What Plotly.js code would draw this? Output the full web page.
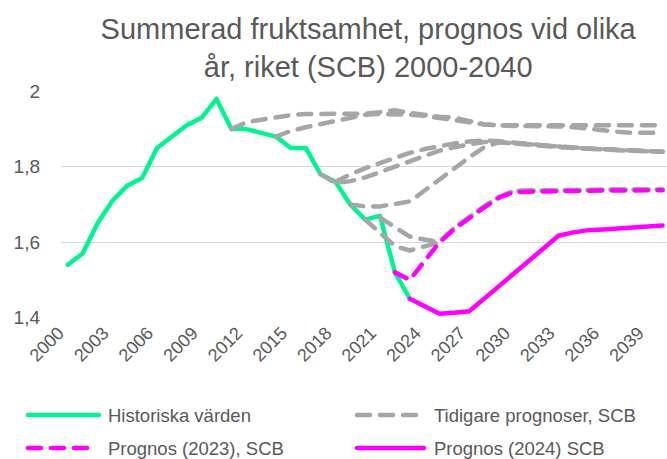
<!DOCTYPE html>
<html>
<head>
<meta charset="utf-8">
<script src="https://cdn.plot.ly/plotly-3.0.1.min.js"></script>
<style>
html,body{margin:0;padding:0;background:#fff;}
#chart{width:667px;height:459px;}
.scatterlayer .js-line{stroke-linecap:round;stroke-linejoin:round;}
.shapelayer path{stroke-linecap:round;}
</style>
</head>
<body>
<div id="chart"></div>
<script>
// ---- data ----
const years = [2000,2001,2002,2003,2004,2005,2006,2007,2008,2009,2010,2011,2012,2013,2014,2015,2016,2017,2018,2019,2020,2021,2022,2023,2024,2025,2026,2027,2028,2029,2030,2031,2032,2033,2034,2035,2036,2037,2038,2039,2040];
const tickYears = [2000,2003,2006,2009,2012,2015,2018,2021,2024,2027,2030,2033,2036,2039];
const tickLabels = ['2000','2003','2006','2009','2012','2015','2018','2021','2024','2027','2030','2033','2036','2039'];
const yTicks = [1.4,1.6,1.8,2.0];
const yTickLabels = ['1,4','1,6','1,8','2'];

const historiskaStart = 2000;
const historiska = [1.54,1.57,1.65,1.71,1.75,1.77,1.85,1.88,1.91,1.93,1.98,1.90,1.90,1.89,1.88,1.85,1.85,1.78,1.76,1.70,1.66,1.67,1.52,1.45];

const prognos2023Start = 2022;
const prognos2023 = [1.52,1.50,1.55,1.60,1.635,1.665,1.692,1.718,1.733,1.734,1.735,1.735,1.736,1.736,1.737,1.737,1.738,1.738,1.738];

const prognos2024Start = 2023;
const prognos2024 = [1.45,1.43,1.41,1.413,1.417,1.45,1.483,1.517,1.55,1.584,1.617,1.626,1.632,1.634,1.637,1.639,1.642,1.644];

// earlier SCB forecasts (gray dashed)
const tidigareAStart = 2011;
const tidigareA = [1.90,1.918,1.925,1.932,1.937,1.94,1.94,1.94,1.94,1.941,1.945,1.95,1.943,1.937,1.933,1.93,1.922,1.913,1.91,1.91,1.91,1.91,1.91,1.91,1.91,1.91,1.91,1.91,1.91,1.91];
const tidigareBStart = 2014;
const tidigareB = [1.88,1.895,1.905,1.913,1.922,1.93,1.938,1.94,1.94,1.938,1.935,1.93,1.925,1.918,1.912,1.909,1.908,1.908,1.908,1.907,1.905,1.902,1.897,1.893,1.89,1.89,1.89];
const tidigareCStart = 2017;
const tidigareC = [1.78,1.757,1.762,1.772,1.786,1.80,1.817,1.83,1.843,1.852,1.86,1.866,1.865,1.862,1.858,1.855,1.852,1.85,1.848,1.846,1.844,1.842,1.841,1.84];
const tidigareDStart = 2018;
const tidigareD = [1.76,1.78,1.796,1.81,1.825,1.837,1.847,1.855,1.862,1.867,1.87,1.868,1.864,1.86,1.856,1.853,1.85,1.848,1.846,1.844,1.842,1.841,1.84];
const tidigareEStart = 2019;
const tidigareE = [1.70,1.695,1.695,1.70,1.708,1.737,1.767,1.797,1.825,1.852,1.865,1.862,1.858,1.855,1.852,1.85,1.848,1.846,1.844,1.842,1.841,1.84];
const tidigareFStart = 2021;
const tidigareF = [1.665,1.64,1.615,1.607,1.60,1.638,1.668,1.695,1.72,1.736,1.737,1.737,1.738,1.738,1.739,1.739,1.74,1.74,1.74,1.74];
const tidigareGStart = 2020;
const tidigareG = [1.66,1.625,1.59,1.578,1.59,1.60,1.638,1.668,1.695,1.72,1.736,1.737,1.737,1.738,1.738,1.739,1.739,1.74,1.74,1.74,1.74];

const legendLabels = ['Historiska värden','Tidigare prognoser, SCB','Prognos (2023), SCB','Prognos (2024) SCB'];

// ---- styling ----
const GREEN = 'rgb(0,245,145)';
const GRAY = '#A6A6A6';
const MAGENTA = '#FF00FF';
const TXT = '#595959';
const FONT = 'Liberation Sans, Arial, sans-serif';
const W = 4.5;
const DASH = '13px,10px';

function xsFor(start, vals){
  const i = years.indexOf(start);
  return years.slice(i, i + vals.length);
}

const traces = [];
traces.push({x: xsFor(historiskaStart, historiska), y: historiska, type:'scatter', mode:'lines', name: legendLabels[0], line:{color:GREEN, width:W}, hoverinfo:'skip'});
const grays = [[tidigareAStart,tidigareA],[tidigareBStart,tidigareB],[tidigareCStart,tidigareC],[tidigareDStart,tidigareD],[tidigareEStart,tidigareE],[tidigareFStart,tidigareF],[tidigareGStart,tidigareG]];
grays.forEach(function(g, k){
  traces.push({x: xsFor(g[0], g[1]), y: g[1], type:'scatter', mode:'lines', name: legendLabels[1], legendgroup:'tid', showlegend: k===0, line:{color:GRAY, width:W, dash:DASH}, hoverinfo:'skip'});
});
traces.push({x: xsFor(prognos2023Start, prognos2023), y: prognos2023, type:'scatter', mode:'lines', name: legendLabels[2], line:{color:MAGENTA, width:W, dash:DASH}, hoverinfo:'skip'});
traces.push({x: xsFor(prognos2024Start, prognos2024), y: prognos2024, type:'scatter', mode:'lines', name: legendLabels[3], line:{color:MAGENTA, width:W}, hoverinfo:'skip'});

// ---- custom legend (pixel positions converted to paper coords) ----
const M = {l:61, r:0, t:91, b:141};
const PW = 667 - M.l - M.r, PH = 459 - M.t - M.b;
function px(x){ return (x - M.l) / PW; }
function py(y){ return (459 - M.b - y) / PH; }
const legendItems = [
  {x0:28, x1:99, xt:106, y:415, color:GREEN, dash:'solid'},
  {x0:357, x1:420, xt:432, y:415, color:GRAY, dash:DASH},
  {x0:28, x1:92, xt:106, y:448, color:MAGENTA, dash:DASH},
  {x0:357, x1:424, xt:432, y:448, color:MAGENTA, dash:'solid'}
];
const shapes = [], annotations = [];
legendItems.forEach(function(it, i){
  shapes.push({type:'line', xref:'paper', yref:'paper', x0:px(it.x0), x1:px(it.x1), y0:py(it.y), y1:py(it.y), line:{color:it.color, width:W, dash:it.dash}});
  annotations.push({xref:'paper', yref:'paper', x:px(it.xt), y:py(it.y), xanchor:'left', yanchor:'middle', showarrow:false, text:legendLabels[i], font:{family:FONT, size:18.5, color:TXT}});
});

const layout = {
  width:667, height:459,
  margin:{l:M.l, r:M.r, t:M.t, b:M.b, pad:0},
  paper_bgcolor:'#ffffff', plot_bgcolor:'#ffffff',
  separators:', ',
  showlegend:false,
  title:{text:'Summerad fruktsamhet, prognos vid olika<br>år, riket (SCB) 2000-2040', font:{family:FONT, size:29, color:TXT}, xref:'container', x:0.552, xanchor:'center', yref:'container', y:0.915, yanchor:'middle'},
  xaxis:{range:[1999.54,2040.3], tickmode:'array', tickvals:tickYears, ticktext:tickLabels, tickangle:-45, ticklabelshift:-9, showgrid:false, zeroline:false, showline:false, ticks:'', tickfont:{family:FONT, size:18, color:TXT}, fixedrange:true},
  yaxis:{range:[1.399,2.001], tickmode:'array', tickvals:yTicks, ticktext:yTickLabels, showgrid:true, gridcolor:'#D9D9D9', gridwidth:1.3, zeroline:false, showline:false, ticks:'', ticklabelstandoff:20, tickfont:{family:FONT, size:19, color:TXT}, fixedrange:true},
  shapes: shapes,
  annotations: annotations
};

Plotly.newPlot('chart', traces, layout, {displayModeBar:false, staticPlot:true});
</script>
</body>
</html>
